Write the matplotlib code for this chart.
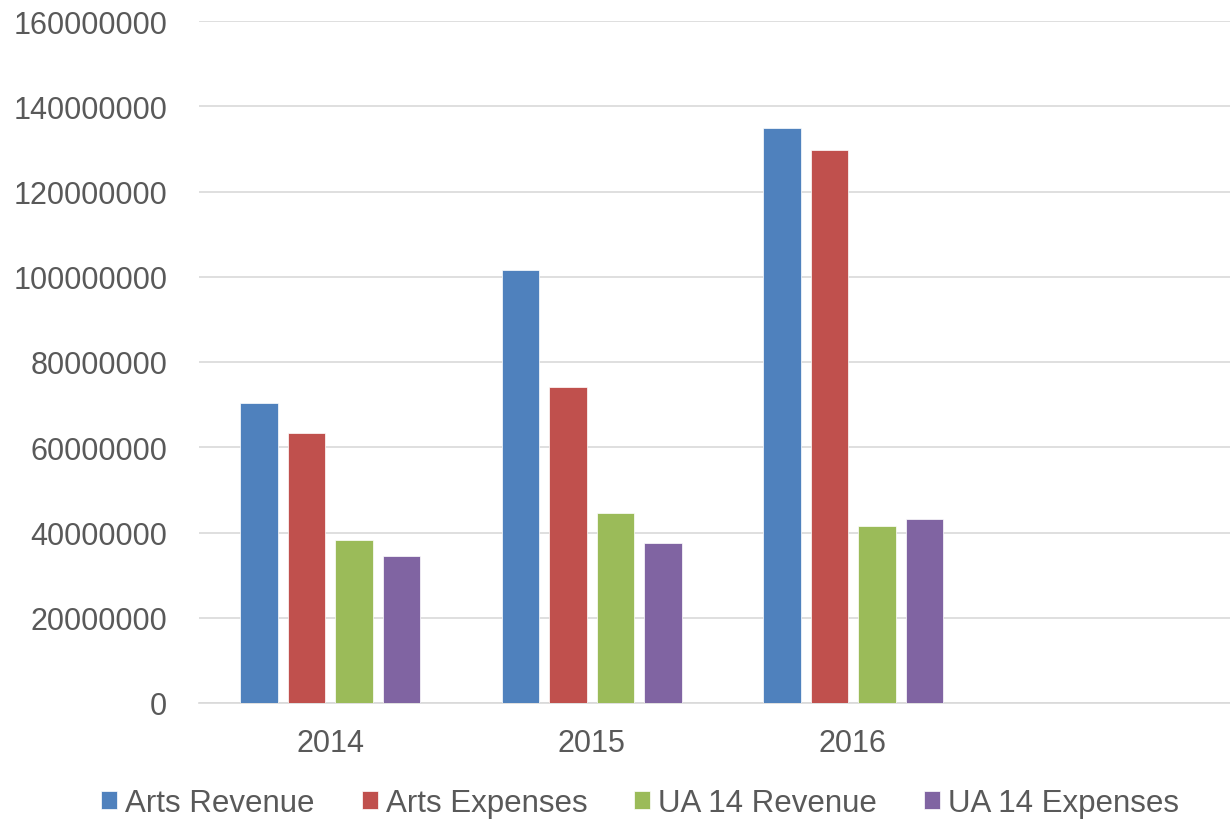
import matplotlib
matplotlib.use("Agg")
import matplotlib.pyplot as plt
import numpy as np

years = ["2014", "2015", "2016"]
series_names = ["Arts Revenue", "Arts Expenses", "UA 14 Revenue", "UA 14 Expenses"]
arts_revenue = [70300000, 101600000, 134800000]
arts_expenses = [63300000, 74100000, 129800000]
ua_revenue = [38200000, 44600000, 41500000]
ua_expenses = [34600000, 37600000, 43200000]
colors = ["#4F81BD", "#C0504D", "#9BBB59", "#8064A2"]
y_ticks = [0, 20000000, 40000000, 60000000, 80000000, 100000000, 120000000, 140000000, 160000000]

plt.rcParams['font.family'] = ['Liberation Sans', 'DejaVu Sans']

W, H = 1230, 820
fig = plt.figure(figsize=(W / 100, H / 100), dpi=100)
left_px, right_px, top_px, bottom_px = 199.25, 1230, 22, 704
ax = fig.add_axes([left_px / W, 1 - bottom_px / H, (right_px - left_px) / W, (bottom_px - top_px) / H])

cat_px = 261.5
step = 47.5 / cat_px
width = 37.5 / cat_px
x = np.arange(len(years))
all_series = [arts_revenue, arts_expenses, ua_revenue, ua_expenses]
for i, (name, vals, c) in enumerate(zip(series_names, all_series, colors)):
    ax.bar(x + (i - 1.5) * step, vals, width=width, color=c, label=name,
           edgecolor="white", linewidth=0.5, zorder=3)

ax.set_xlim(-0.5, -0.5 + (right_px - left_px) / cat_px)
ax.set_ylim(0, 160000000)
ax.set_yticks(y_ticks)
ax.set_yticklabels([str(v) for v in y_ticks])
ax.set_xticks(x)
ax.set_xticklabels(years)
ax.grid(axis="y", color="#d9d9d9", linewidth=1.2, zorder=0)
for s in ["left", "right", "top"]:
    ax.spines[s].set_visible(False)
ax.spines["bottom"].set_color("#d9d9d9")
ax.spines["bottom"].set_linewidth(1.2)
ax.tick_params(axis="y", length=0, pad=23, labelsize=22, labelcolor="#595959")
ax.tick_params(axis="x", length=0, pad=18, labelsize=22, labelcolor="#595959")

leg = fig.legend(loc="center", bbox_to_anchor=(640 / W, 1 - 804 / H), ncol=4, frameon=False,
                 fontsize=22.5, handlelength=0.52, handleheight=0.52, handletextpad=0.25,
                 columnspacing=1.5, borderaxespad=0, borderpad=0)
for t in leg.get_texts():
    t.set_color("#595959")

fig.savefig("out.png", dpi=100)
